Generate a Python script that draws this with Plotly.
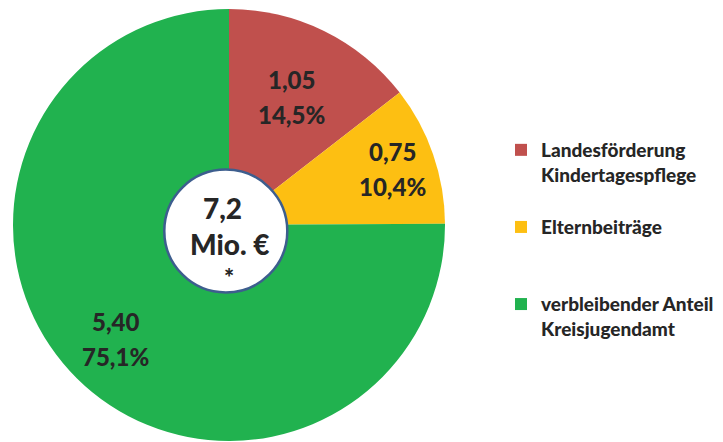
import math
import plotly.graph_objects as go

# ---- data ----
labels = ["Landesförderung<br>Kindertagespflege", "Elternbeiträge", "verbleibender Anteil<br>Kreisjugendamt"]
amounts = ["1,05", "0,75", "5,40"]
percent_values = [14.5, 10.4, 75.1]
percent_labels = ["14,5%", "10,4%", "75,1%"]
total_label = ["7,2", "Mio. €", "*"]
colors = ["#C0504D", "#FDBF12", "#21B24F"]

W, H = 723, 442
cx, cy, R = 229, 225, 216  # pie centre/radius in px
label_r = [0.66, 0.80, 0.745]
text_color = "#262626"
FONT = "Lato"
WEIGHT = 900

legend_labels = [labels[0] + "<br> ", labels[1] + "<br> <br> ", labels[2]]

fig = go.Figure(go.Pie(
    labels=legend_labels,
    values=percent_values,
    marker=dict(colors=colors, line=dict(width=0)),
    sort=False,
    direction="clockwise",
    rotation=0,
    textinfo="none",
    hoverinfo="label+value",
    domain=dict(x=[(cx - R) / W, (cx + R) / W], y=[1 - (cy + R) / H, 1 - (cy - R) / H]),
))

annotations = []
total = sum(percent_values)
cum = 0.0
for amt, pl, v, fr in zip(amounts, percent_labels, percent_values, label_r):
    mid = (cum + v / 2) / total * 2 * math.pi
    cum += v
    px = cx + fr * R * math.sin(mid)
    py = cy - fr * R * math.cos(mid)
    for txt, ys in ((amt, 17.5), (pl, -17.5)):
        annotations.append(dict(
            x=px / W, y=1 - py / H, xref="paper", yref="paper", text=txt, showarrow=False,
            yshift=ys, font=dict(family=FONT, size=24, color=text_color, weight=WEIGHT),
            xanchor="center", yanchor="middle"))

# centre circle
ccx, ccy, cr = 225.8, 231, 61.5
center_pos = [(222, 208, 28), (230, 244, 28), (229, 277, 24)]
for t, (x, y, s) in zip(total_label, center_pos):
    annotations.append(dict(
        x=x / W, y=1 - y / H, xref="paper", yref="paper", text=t, showarrow=False,
        font=dict(family=FONT, size=s, color=text_color, weight=WEIGHT),
        xanchor="center", yanchor="middle"))

fig.update_layout(
    width=W, height=H,
    margin=dict(l=0, r=0, t=0, b=0),
    paper_bgcolor="white",
    plot_bgcolor="white",
    showlegend=True,
    legend=dict(
        x=501 / W, xanchor="left", y=1 - 131 / H, yanchor="top",
        valign="top", traceorder="normal",
        font=dict(family=FONT, size=19, color=text_color, weight=WEIGHT),
        bgcolor="rgba(0,0,0,0)",
    ),
    shapes=[dict(
        type="circle", xref="paper", yref="paper",
        x0=(ccx - cr) / W, x1=(ccx + cr) / W,
        y0=1 - (ccy + cr) / H, y1=1 - (ccy - cr) / H,
        fillcolor="white", line=dict(color="#3D5E8E", width=2.5), layer="above")],
    annotations=annotations,
)

fig.write_html("out.html", config={"displayModeBar": False},
               post_script="document.body.style.margin='0px';")
